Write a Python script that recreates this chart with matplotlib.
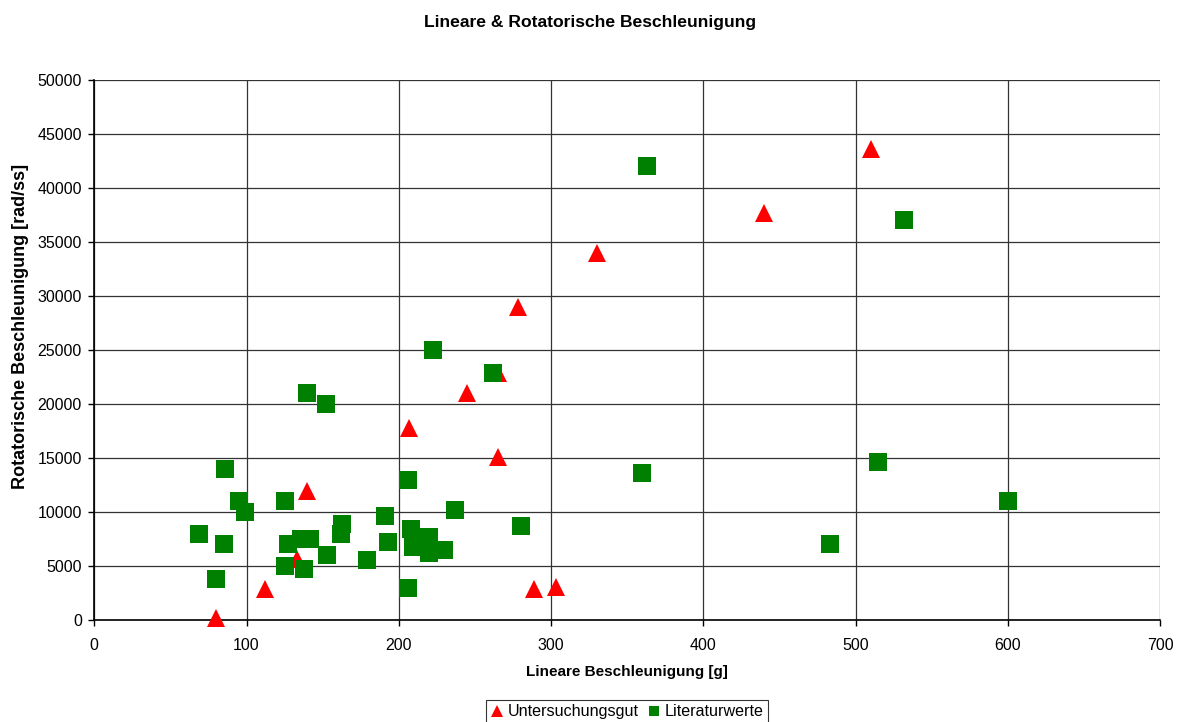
import matplotlib.pyplot as plt

plt.rcParams["font.family"] = ["Liberation Sans", "DejaVu Sans"]

# Untersuchungsgut (own measurements)
unters_x = [80, 112, 133, 140, 207, 245, 265, 265, 278, 289, 303, 330, 440, 510]
unters_y = [200, 2900, 5700, 12000, 17800, 21000, 22900, 15150, 29000, 2900,
            3100, 34000, 37650, 43650]

# Literaturwerte (literature values)
lit_x = [222.6, 262, 140, 152, 86, 206, 95, 99, 125, 191, 237, 280, 69, 85,
         163, 162, 208, 220, 209.5, 220, 230, 193, 127, 136, 142, 152.6, 179,
         125, 138, 80, 206, 363, 532, 360, 515, 483, 600]
lit_y = [25000, 22900, 21050, 20000, 14000, 13000, 11050, 10050, 11050, 9650,
         10200, 8760, 8000, 7050, 8900, 8000, 8430, 7740, 6760, 6260, 6500,
         7280, 7080, 7550, 7550, 6050, 5560, 5030, 4720, 3820, 3000, 42080,
         37060, 13670, 14660, 7060, 11050]

x_ticks = list(range(0, 701, 100))
y_ticks = list(range(0, 50001, 5000))

W, H = 1181, 722
left, right, top, bottom = 94.3, 1160, 80, 620.3

fig = plt.figure(figsize=(W / 100, H / 100), dpi=100)
ax = fig.add_axes([left / W, 1 - bottom / H, (right - left) / W, (bottom - top) / H])

ax.plot(unters_x, unters_y, linestyle="none", marker="^", ms=13, mew=0,
        color="#ff0000", label="Untersuchungsgut", zorder=3, clip_on=False)
ax.plot(lit_x, lit_y, linestyle="none", marker="s", ms=12.5, mew=0,
        color="#008000", label="Literaturwerte", zorder=4, clip_on=False)

ax.set_xlim(0, 700)
ax.set_ylim(0, 50000)
ax.set_xticks(x_ticks)
ax.set_yticks(y_ticks)
ax.tick_params(direction="out", length=4, width=1, labelsize=11.5, colors="black")
ax.tick_params(axis="x", pad=9)
ax.tick_params(axis="y", pad=5)
ax.grid(True, color="0.2", linewidth=0.9)
ax.set_axisbelow(True)

for side in ["top", "right"]:
    ax.spines[side].set_visible(False)
for side in ["left", "bottom"]:
    ax.spines[side].set_linewidth(1.2)
    ax.spines[side].set_color("black")

ax.set_xlabel("Lineare Beschleunigung [g]", fontsize=11, fontweight="bold")
ax.xaxis.set_label_coords(0.5, (bottom - 665) / (bottom - top))
ax.set_ylabel("Rotatorische Beschleunigung [rad/ss]", fontsize=13, fontweight="bold")
ax.yaxis.set_label_coords((29 - left) / (right - left), (bottom - 326) / (bottom - top))

fig.text(0.5, 1 - 22 / H, "Lineare & Rotatorische Beschleunigung", ha="center",
         va="center", fontsize=12.6, fontweight="bold")

leg = ax.legend(loc="upper center", bbox_to_anchor=(0.5, -(699.5 - bottom) / (bottom - top)),
                ncol=2, fontsize=11.6, frameon=True, fancybox=False, markerscale=0.62,
                handlelength=0.7, handletextpad=0.3, columnspacing=0.6,
                borderpad=0.3, borderaxespad=0)
leg.get_frame().set_edgecolor("black")
leg.get_frame().set_linewidth(0.8)

fig.savefig("out.png", dpi=100)
